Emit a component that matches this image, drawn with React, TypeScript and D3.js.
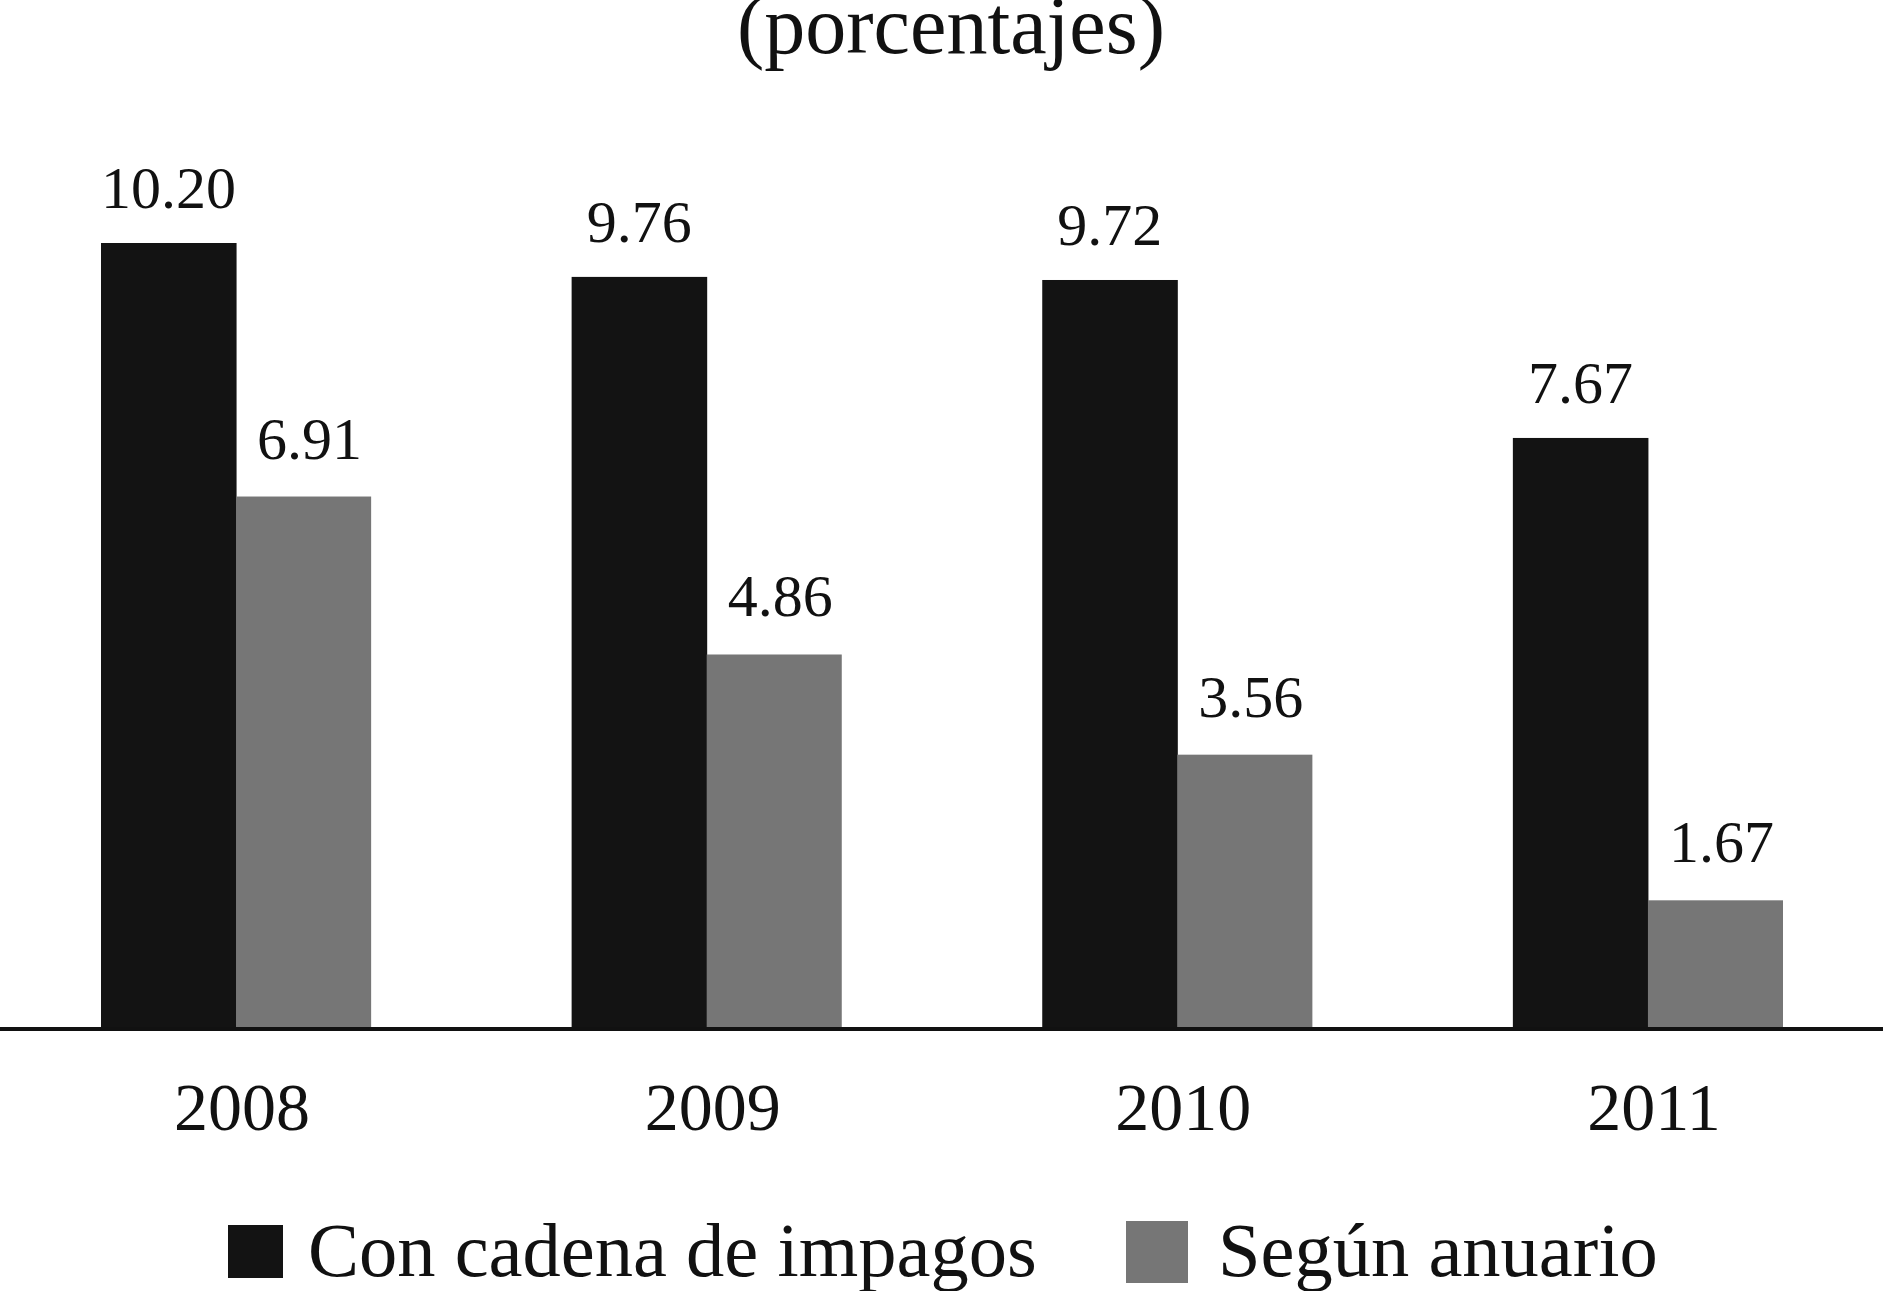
import React from "react";
import * as d3 from "d3";

const years = ["2008", "2009", "2010", "2011"];
const seriesNames = ["Con cadena de impagos", "Según anuario"];
const conCadena = [10.2, 9.76, 9.72, 7.67];
const segunAnuario = [6.91, 4.86, 3.56, 1.67];
const seriesColors = ["#131313", "#767676"];
const title = "(porcentajes)";

const W = 1883;
const H = 1291;
const FONT = "'Liberation Serif', 'Times New Roman', serif";

export default function App() {
  const series = [conCadena, segunAnuario];
  const x = d3.scaleBand<string>().domain(years).range([101, 1783]).paddingInner(0.426).paddingOuter(0);
  const xs = d3.scaleBand<number>().domain([0, 1]).range([0, x.bandwidth()]).padding(0);
  const y = d3.scaleLinear().domain([0, 10.2]).range([1029, 243]);

  return (
    <svg width={W} height={H} style={{ position: "absolute", left: 0, top: 0, background: "#fff" }} fontFamily={FONT}>
      <rect x={0} y={0} width={W} height={H} fill="#fff" />
      <text x={951} y={53} textAnchor="middle" fontSize={82} fill="#111">{title}</text>
      {years.map((yr, i) => (
        <g key={yr} transform={`translate(${x(yr)},0)`}>
          {series.map((s, j) => (
            <g key={j}>
              <rect x={xs(j)} y={y(s[i])} width={xs.bandwidth() + (j === 0 ? 0.5 : 0)} height={y(0) - y(s[i])} fill={seriesColors[j]} />
              <text x={(xs(j) as number) + xs.bandwidth() / 2 + (j === 1 ? 6 : 0)} y={y(s[i]) - (j === 1 ? 38 : 35)} textAnchor="middle" fontSize={60} fill="#111">
                {s[i].toFixed(2)}
              </text>
            </g>
          ))}
          <text x={x.bandwidth() / 2 + 6} y={1130} textAnchor="middle" fontSize={68} fill="#111">{yr}</text>
        </g>
      ))}
      <line x1={0} x2={W} y1={1029} y2={1029} stroke="#111" strokeWidth={4} />
      <rect x={228} y={1225} width={55} height={53} fill={seriesColors[0]} />
      <text x={308} y={1276} fontSize={76.5} fill="#111">{seriesNames[0]}</text>
      <rect x={1126} y={1221} width={62} height={62} fill={seriesColors[1]} />
      <text x={1218} y={1276} fontSize={76.5} fill="#111">{seriesNames[1]}</text>
    </svg>
  );
}
